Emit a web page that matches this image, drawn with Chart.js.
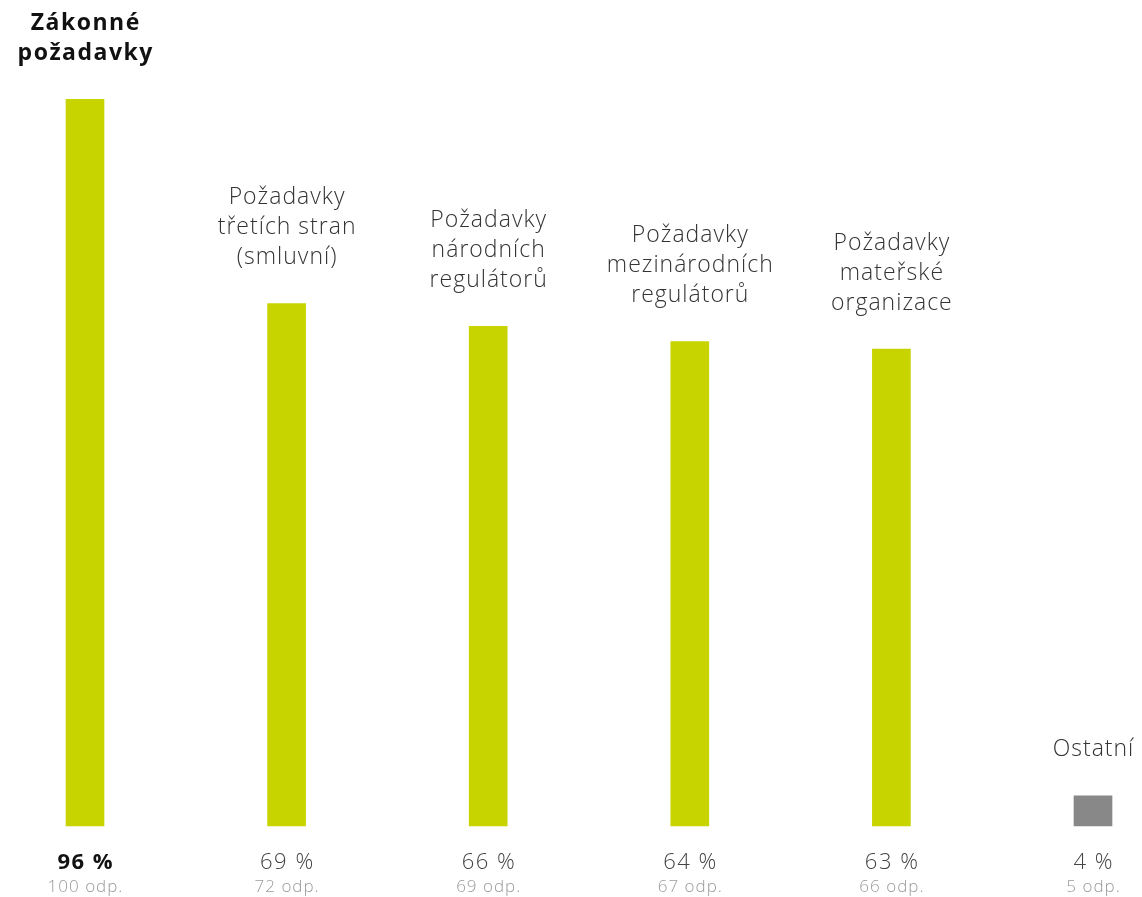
<!DOCTYPE html>
<html>
<head>
<meta charset="utf-8">
<script src="https://cdn.jsdelivr.net/npm/chart.js@4"></script>
<style>
  html, body { margin: 0; padding: 0; background: #fff; }
  #obal { width: 1142px; height: 897px; }
</style>
</head>
<body>
<div id="obal"><canvas id="graf"></canvas></div>
<script>
// data grafu
const kategorie = [
  ["Zákonné", "požadavky"],
  ["Požadavky", "třetích stran", "(smluvní)"],
  ["Požadavky", "národních", "regulátorů"],
  ["Požadavky", "mezinárodních", "regulátorů"],
  ["Požadavky", "mateřské", "organizace"],
  ["Ostatní"]
];
const procenta = [96, 69, 66, 64, 63, 4];
const odpovedi = [100, 72, 69, 67, 66, 5];
const barvy = ["#c8d400", "#c8d400", "#c8d400", "#c8d400", "#c8d400", "#888888"];

const FONT = "'Open Sans', 'Noto Sans', sans-serif";

// popisky nad sloupci a hodnoty pod nimi
const popiskyPlugin = {
  id: "popisky",
  afterDatasetsDraw(chart) {
    const ctx = chart.ctx;
    const x = chart.scales.x;
    const y = chart.scales.y;
    const base = y.getPixelForValue(0);
    ctx.save();
    ctx.textAlign = "center";
    ctx.textBaseline = "middle";
    kategorie.forEach((radky, i) => {
      const cx = x.getPixelForValue(i);
      const vrch = y.getPixelForValue(procenta[i]);
      const prvni = i === 0;
      ctx.fillStyle = prvni ? "#111" : "#333";
      ctx.font = (prvni ? "bold 23px " : "300 23px ") + FONT;
      ctx.letterSpacing = prvni ? "1.5px" : "1px";
      const posun = prvni ? 0.75 : 0.5;
      radky.forEach((r, j) => {
        const ty = vrch - 46 - (radky.length - 1 - j) * 30;
        ctx.fillText(r, cx + posun, ty);
      });
      ctx.fillStyle = prvni ? "#111" : "#444";
      ctx.font = (prvni ? "bold 22px " : "300 22px ") + FONT;
      ctx.letterSpacing = "1.5px";
      ctx.fillText(procenta[i] + " %", cx + 0.75, base + 37);
      ctx.fillStyle = "#9a9a9a";
      ctx.font = "300 17px " + FONT;
      ctx.letterSpacing = "1px";
      ctx.fillText(odpovedi[i] + " odp.", cx + 0.5, base + 61);
    });
    ctx.restore();
  }
};

new Chart(document.getElementById("graf"), {
  type: "bar",
  data: {
    labels: kategorie.map(k => k.join(" ")),
    datasets: [{
      data: procenta,
      backgroundColor: barvy,
      barThickness: 38,
      clip: false
    }]
  },
  options: {
    responsive: true,
    maintainAspectRatio: false,
    animation: false,
    layout: { padding: { left: 85, right: 49, top: 69, bottom: 71 } },
    plugins: { legend: { display: false }, tooltip: { enabled: false } },
    scales: {
      x: { offset: false, display: false, grid: { display: false } },
      y: { display: false, min: 0, max: 100, grid: { display: false } }
    }
  },
  plugins: [popiskyPlugin]
});
</script>
</body>
</html>
